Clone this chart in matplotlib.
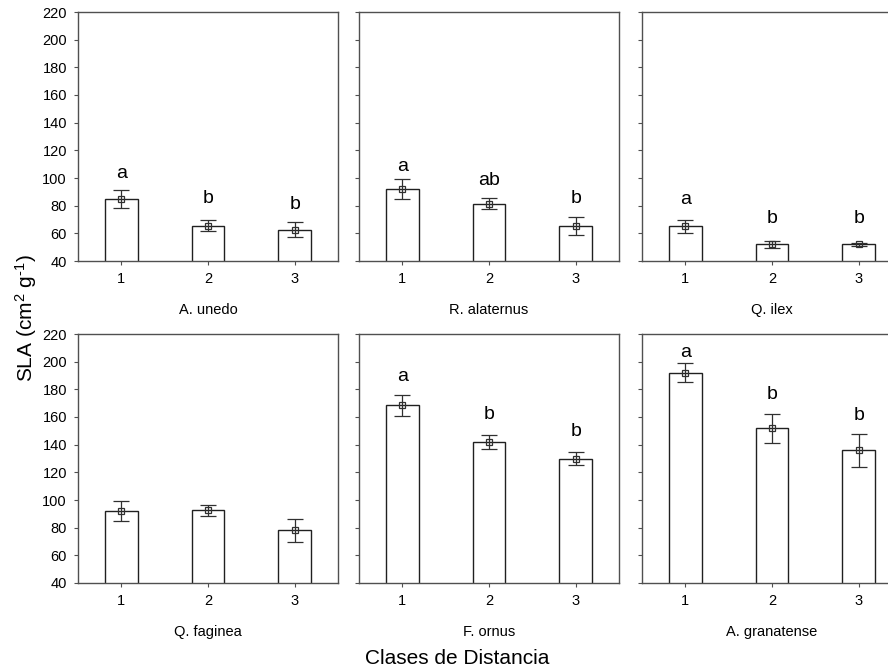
import numpy as np
import matplotlib.pyplot as plt

plt.rcParams['font.family'] = ['Liberation Sans', 'DejaVu Sans']
plt.rcParams['mathtext.fontset'] = 'custom'
plt.rcParams['mathtext.rm'] = 'Liberation Sans'
plt.rcParams['mathtext.default'] = 'regular'

# Área foliar específica por clase de distancia
clases = [1, 2, 3]
especies = ['A. unedo', 'R. alaternus', 'Q. ilex',
            'Q. faginea', 'F. ornus', 'A. granatense']
media = [
    [85, 65.5, 62.5],
    [92, 81.5, 65],
    [65, 52, 52],
    [92, 92.5, 78],
    [168.5, 142, 130],
    [192, 152, 136],
]
error = [
    [6.5, 4, 5.5],
    [7, 4, 6.5],
    [4.7, 2.7, 1.2],
    [7, 4, 8.5],
    [7.5, 5, 4.8],
    [6.7, 10.5, 12],
]
letras = [
    ['a', 'b', 'b'],
    ['a', 'ab', 'b'],
    ['a', 'b', 'b'],
    ['', '', ''],
    ['a', 'b', 'b'],
    ['a', 'b', 'b'],
]
pos_letras = [
    [103, 85, 80.5],
    [108, 98.5, 85],
    [84.5, 70.8, 70.8],
    [0, 0, 0],
    [189.5, 161.5, 149.5],
    [206.5, 176, 161],
]
yticks = list(range(40, 221, 20))

fig = plt.figure(figsize=(8.88, 6.70), dpi=100)
W, H = 888, 670
izq = [78, 359, 642]
arriba = [12, 334]
ancho, alto = 260, 249

gris = '#505050'
for k in range(6):
    fila, col = divmod(k, 3)
    ax = fig.add_axes([izq[col] / W, 1 - (arriba[fila] + alto) / H,
                       ancho / W, alto / H])
    ax.bar(clases, media[k], width=0.38, bottom=0,
           color='white', edgecolor='#202020', linewidth=1.0, zorder=2)
    ax.errorbar(clases, media[k], yerr=error[k], fmt='s', ms=4.5,
                mfc='none', mec='#303030', mew=0.9,
                ecolor='#303030', elinewidth=0.9, capsize=6, capthick=0.9,
                zorder=3)
    for x, t, y in zip(clases, letras[k], pos_letras[k]):
        if t:
            ax.text(x, y, t, ha='center', va='center', fontsize=14)
    ax.set_xlim(0.5, 3.5)
    ax.set_ylim(40, 220)
    ax.set_xticks(clases)
    ax.set_yticks(yticks)
    if col != 0:
        ax.set_yticklabels([])
    ax.tick_params(direction='out', length=3, width=0.8, color=gris,
                   labelsize=10.5, pad=5)
    for s in ax.spines.values():
        s.set_color(gris)
        s.set_linewidth(1.0)
    ax.text(0.5, -0.196, especies[k], transform=ax.transAxes,
            ha='center', va='center', fontsize=10.5)

fig.text(26 / W, 1 - 318 / H, 'SLA (cm$^{2}$ g$^{\\text{-}1}$)', rotation=90,
         ha='center', va='center', fontsize=15)
fig.text(457 / W, 1 - 658 / H, 'Clases de Distancia',
         ha='center', va='center', fontsize=15)

fig.savefig('out.png', dpi=100)
